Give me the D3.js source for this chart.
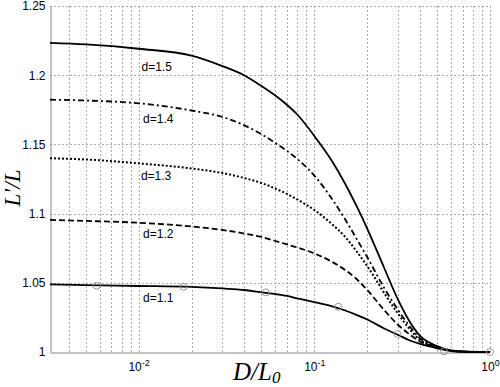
<!DOCTYPE html>
<html>
<head>
<meta charset="utf-8">
<script src="https://cdn.jsdelivr.net/npm/d3@7"></script>
<style>
    body { margin: 0; background: #fff; }
    #chart { width: 500px; height: 387px; }
</style>
</head>
<body>
<div id="chart"></div>
<script>
// D/L0 sample points
const dRatio = [0.00313, 0.005, 0.01, 0.02, 0.03, 0.04, 0.05, 0.06, 0.07, 0.08, 0.1, 0.125,
    0.15, 0.175, 0.2, 0.25, 0.3, 0.35, 0.4, 0.5, 0.6, 0.7, 1.0];

const d15 = [1.2233, 1.2222, 1.2191, 1.2142, 1.2066, 1.1998, 1.1922, 1.1853, 1.1785, 1.1716, 1.1561, 1.1387,
    1.1214, 1.1048, 1.0892, 1.0607, 1.0376, 1.0217, 1.0116, 1.0043, 1.0011, 1.0003, 1.0];
const d14 = [1.1823, 1.1817, 1.1797, 1.1745, 1.1698, 1.1637, 1.1574, 1.1510, 1.1452, 1.1395, 1.1275, 1.1113,
    1.0957, 1.0813, 1.0686, 1.0462, 1.0303, 1.0184, 1.0099, 1.0036, 1.0011, 1.0003, 1.0];
const d13 = [1.1400, 1.1391, 1.1363, 1.1326, 1.1293, 1.1257, 1.1221, 1.1181, 1.1142, 1.1102, 1.1026, 1.0928,
    1.0831, 1.0723, 1.0621, 1.0426, 1.0275, 1.0163, 1.0087, 1.0036, 1.0009, 1.0003, 1.0];
const d12 = [1.0954, 1.0947, 1.0934, 1.0907, 1.0882, 1.0856, 1.0831, 1.0802, 1.0777, 1.0755, 1.0712, 1.0654,
    1.0592, 1.0524, 1.0448, 1.0303, 1.0195, 1.0126, 1.0076, 1.0033, 1.0011, 1.0003, 1.0];
const d11 = [1.0489, 1.0483, 1.0477, 1.0470, 1.0459, 1.0448, 1.0431, 1.0419, 1.0405, 1.0387, 1.0361, 1.0332,
    1.0300, 1.0267, 1.0235, 1.0170, 1.0123, 1.0083, 1.0058, 1.0027, 1.0007, 1.0002, 1.0];

// open circle markers on the d=1.1 curve
const markerD = [0.00577, 0.018, 0.0529, 0.137, 0.297, 0.547, 1.0];
const markerL = [1.0479, 1.0472, 1.0431, 1.0327, 1.0130, 1.0005, 1.0];

const seriesNames = ['d=1.5', 'd=1.4', 'd=1.3', 'd=1.2', 'd=1.1'];
const labelD = [0.0104, 0.0106, 0.0103, 0.0106, 0.0106];
const labelL = [1.2030, 1.1655, 1.1243, 1.0824, 1.0361];

const yTicks = [1, 1.05, 1.1, 1.15, 1.2, 1.25];
const xTicks = [0.01, 0.1, 1];

const dashes = ['none', '6,3,2,3', '2,2', '6,3', 'none'];

function render() {
    const width = 500;
    const height = 387;
    const margin = { top: 6, right: 10, bottom: 35, left: 50 };

    const svg = d3.select('#chart')
    .append('svg')
    .attr('width', width)
    .attr('height', height)
    .style('font-family', '"Liberation Sans", Arial, sans-serif');

    const x = d3.scaleLog()
    .domain([0.00313, 1])
    .range([margin.left, width - margin.right]);

    const y = d3.scaleLinear()
    .domain([1, 1.25])
    .range([height - margin.bottom, margin.top]);

    // dotted grid, minor decades included
    const grid = svg.append('g')
    .attr('stroke', '#aaa')
    .attr('stroke-width', 1)
    .attr('stroke-dasharray', '2,2');

    grid.selectAll('line.v')
    .data(x.ticks().filter(t => t > x.domain()[0]))
    .enter()
    .append('line')
    .attr('x1', d => Math.round(x(d)) + 0.5)
    .attr('x2', d => Math.round(x(d)) + 0.5)
    .attr('y1', y(1))
    .attr('y2', y(1.25));

    grid.selectAll('line.h')
    .data(yTicks.slice(1))
    .enter()
    .append('line')
    .attr('x1', x.range()[0])
    .attr('x2', x.range()[1])
    .attr('y1', d => Math.round(y(d)) + 0.5)
    .attr('y2', d => Math.round(y(d)) + 0.5);

    // axes
    const yAxis = svg.append('g')
    .attr('transform', `translate(${margin.left + 0.5}, 0)`)
    .call(d3.axisLeft(y).tickValues(yTicks).tickSize(0).tickPadding(5).tickFormat(d3.format('')));

    const xAxis = svg.append('g')
    .attr('transform', `translate(0, ${height - margin.bottom + 0.5})`)
    .call(d3.axisBottom(x).tickValues(xTicks).tickSize(0).tickPadding(10).tickFormat(() => ''));

    [yAxis, xAxis].forEach((g) => {
        g.select('.domain').attr('stroke', '#888');
        g.selectAll('.tick text')
        .attr('fill', '#000')
        .style('font-size', '12px')
        .style('font-family', '"Liberation Sans", Arial, sans-serif');
    });

    xAxis.selectAll('.tick text').each(function (d) {
        const t = d3.select(this);
        t.append('tspan').text('10');
        t.append('tspan')
        .attr('dy', '-0.55em')
        .style('font-size', '9px')
        .text(Math.round(Math.log10(d)));
    });

    // curves
    const series = [d15, d14, d13, d12, d11];
    const line = d3.line()
    .curve(d3.curveMonotoneX)
    .x((d, i) => x(dRatio[i]))
    .y(d => y(d));

    series.forEach((values, k) => {
        svg.append('path')
        .datum(values)
        .attr('d', line)
        .attr('fill', 'none')
        .attr('stroke', '#000')
        .attr('stroke-width', k === 2 ? 2 : 1.8)
        .attr('stroke-dasharray', dashes[k]);
    });

    svg.append('g')
    .selectAll('circle')
    .data(markerD)
    .enter()
    .append('circle')
    .attr('r', 3.5)
    .attr('cx', d => x(d))
    .attr('cy', (d, i) => y(markerL[i]))
    .attr('fill', 'none')
    .attr('stroke', '#999')
    .attr('stroke-width', 1);

    svg.append('g')
    .selectAll('text')
    .data(seriesNames)
    .enter()
    .append('text')
    .attr('x', (d, i) => x(labelD[i]))
    .attr('y', (d, i) => y(labelL[i]))
    .style('font-size', '12px')
    .text(d => d);

    // axis titles
    const xTitle = svg.append('text')
    .attr('x', 233)
    .attr('y', 380)
    .style('font-family', '"Liberation Serif", "Times New Roman", serif')
    .style('font-style', 'italic')
    .style('font-size', '25px');
    xTitle.append('tspan').text('D/L');
    xTitle.append('tspan').attr('dy', '0.15em').style('font-size', '17px').text('0');

    svg.append('text')
    .attr('transform', 'translate(20, 188) rotate(-90)')
    .attr('text-anchor', 'middle')
    .style('font-family', '"Liberation Serif", "Times New Roman", serif')
    .style('font-style', 'italic')
    .style('font-size', '23px')
    .text('L\u2032/L');
}

render();
</script>
</body>
</html>
